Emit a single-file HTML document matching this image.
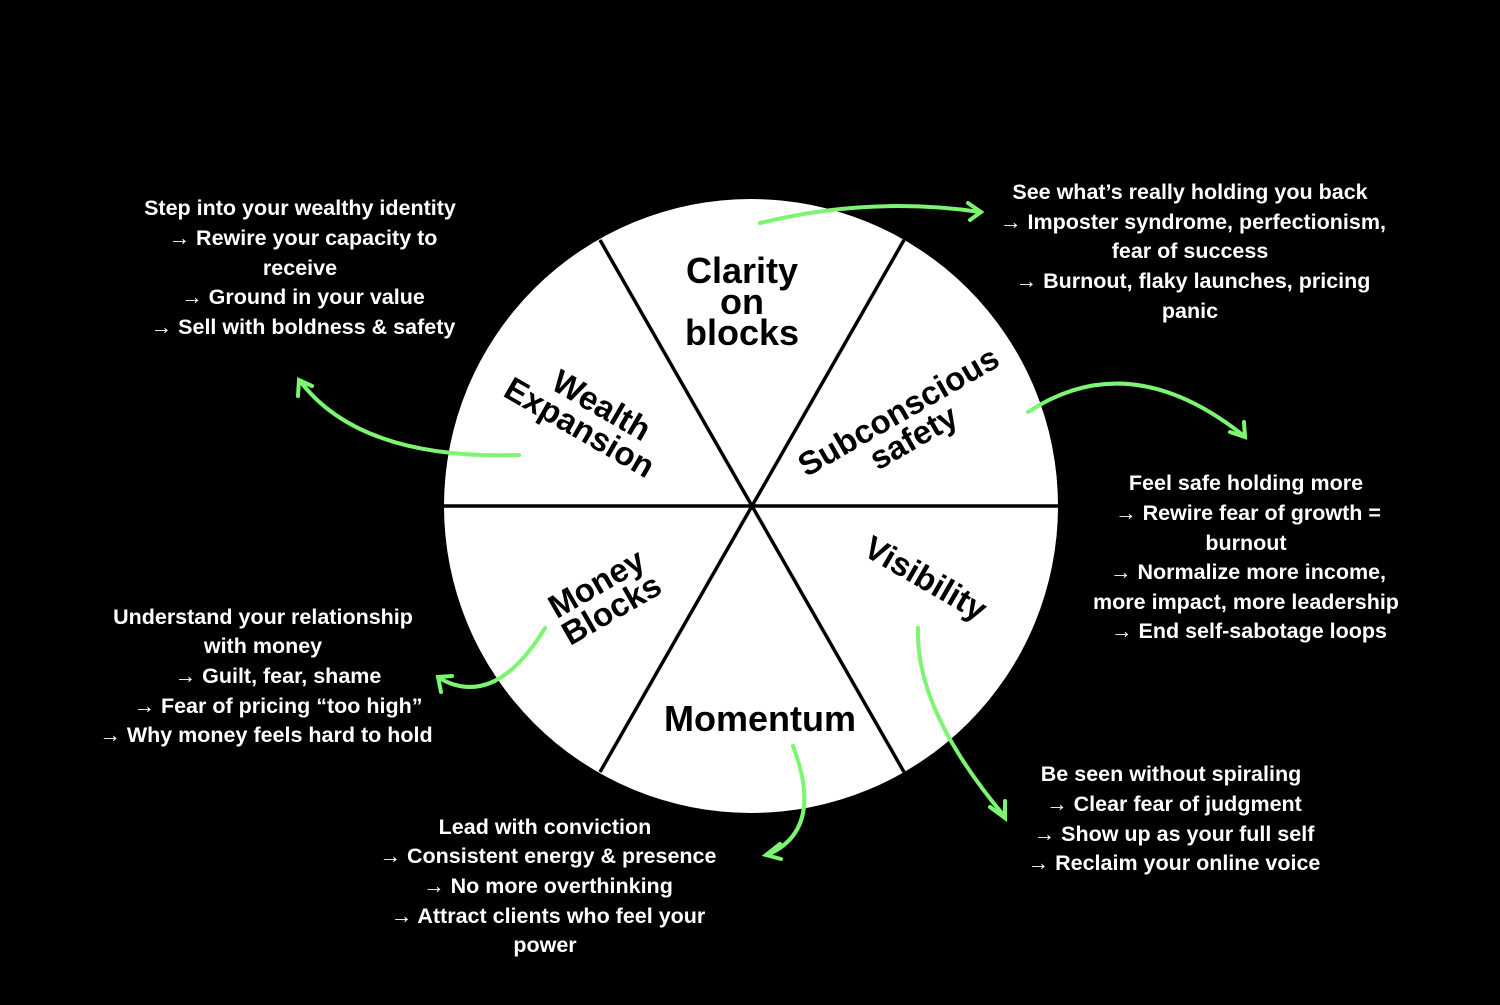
<!DOCTYPE html>
<html><head><style>
html,body{margin:0;padding:0;background:#000;}
svg text{font-family:"Liberation Sans",sans-serif;font-weight:bold;}
.t{fill:#fff;font-size:21.5px;text-anchor:middle;}
.w{fill:#000;text-anchor:middle;font-size:33px;}
.g{fill:none;stroke:#7cf571;stroke-width:4;stroke-linecap:round;}
</style></head><body>
<svg width="1500" height="1000" viewBox="0 0 1500 1000" xmlns="http://www.w3.org/2000/svg">
<rect width="1500" height="1000" fill="#000"/>
<circle cx="751" cy="506" r="307" fill="#fff"/>
<g stroke="#000" stroke-width="3.5">
<line x1="444" y1="506" x2="1058" y2="506"/>
<line x1="600" y1="240" x2="904" y2="772"/>
<line x1="904" y1="240" x2="600" y2="772"/>
</g>
<g class="w">
<text x="742" y="283" font-size="36">Clarity</text>
<text x="742" y="314" font-size="36">on</text>
<text x="742" y="345" font-size="36">blocks</text>
<text x="760" y="731" font-size="36">Momentum</text>
<g transform="translate(585,418) rotate(30)"><text x="8" y="-8">Wealth</text><text x="0" y="22">Expansion</text></g>
<g transform="translate(908,428) rotate(-30)"><text x="0" y="-8">Subconscious</text><text x="0" y="22">safety</text></g>
<g transform="translate(606,600) rotate(-30)"><text x="0" y="-8">Money</text><text x="0" y="22">Blocks</text></g>
<g transform="translate(920,588) rotate(30)"><text x="0" y="0">Visibility</text></g>
</g>
<g class="g">
<path d="M760 223 Q870 196 980 212"/><path d="M968 203 L981 212 L970 220"/>
<path d="M1028 412 Q1130 345 1244 436"/><path d="M1230 432 L1245 437 L1244 422"/>
<path d="M519 455 Q360 460 300 381"/><path d="M298 396 L299 380 L312 386"/>
<path d="M545 628 Q495 710 439 678"/><path d="M441 692 L438 677 L452 676"/>
<path d="M793 746 Q825 830 767 855"/><path d="M780 844 L766 855 L781 859"/>
<path d="M918 628 Q915 710 1005 817"/><path d="M990 807 L1005 818 L1005 801"/>
</g>
<g class="t">
<text x="300" y="215">Step into your wealthy identity</text>
<text x="303" y="245">→ Rewire your capacity to</text>
<text x="300" y="275">receive</text>
<text x="303" y="304">→ Ground in your value</text>
<text x="303" y="334">→ Sell with boldness &amp; safety</text>
<text x="1190" y="199">See what’s really holding you back</text>
<text x="1193" y="229">→ Imposter syndrome, perfectionism,</text>
<text x="1190" y="258">fear of success</text>
<text x="1193" y="288">→ Burnout, flaky launches, pricing</text>
<text x="1190" y="318">panic</text>
<text x="1246" y="490">Feel safe holding more</text>
<text x="1248" y="520">→ Rewire fear of growth =</text>
<text x="1246" y="550">burnout</text>
<text x="1248" y="579">→ Normalize more income,</text>
<text x="1246" y="609">more impact, more leadership</text>
<text x="1249" y="638">→ End self-sabotage loops</text>
<text x="263" y="624">Understand your relationship</text>
<text x="263" y="653">with money</text>
<text x="278" y="683">→ Guilt, fear, shame</text>
<text x="278" y="713">→ Fear of pricing “too high”</text>
<text x="266" y="742">→ Why money feels hard to hold</text>
<text x="545" y="834">Lead with conviction</text>
<text x="548" y="863">→ Consistent energy &amp; presence</text>
<text x="548" y="893">→ No more overthinking</text>
<text x="548" y="923">→ Attract clients who feel your</text>
<text x="545" y="952">power</text>
<text x="1171" y="781">Be seen without spiraling</text>
<text x="1174" y="811">→ Clear fear of judgment</text>
<text x="1174" y="841">→ Show up as your full self</text>
<text x="1174" y="870">→ Reclaim your online voice</text>
</g>
</svg>
</body></html>
